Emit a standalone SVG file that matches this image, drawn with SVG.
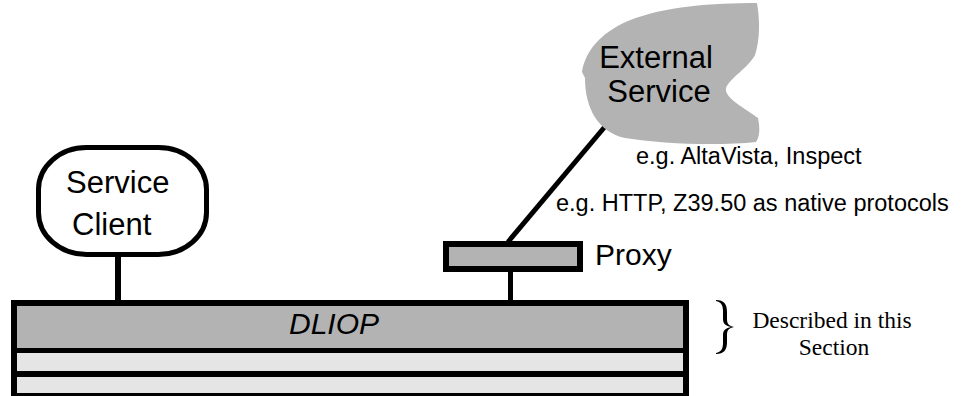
<svg xmlns="http://www.w3.org/2000/svg" width="969" height="396" viewBox="0 0 969 396">
<style>
.sans{font-family:"Liberation Sans",Arial,sans-serif;fill:#000}
.big{font-size:31px}
.lbl{font-size:23.5px}
.serif{font-family:"Liberation Serif","Times New Roman",serif;font-size:23.5px;fill:#000}
.conn{stroke:#000;fill:none}
</style>
<rect width="969" height="396" fill="#fff"/>
<g id="connectors">
<line class="conn" x1="118" y1="256" x2="118" y2="301" stroke-width="6"/>
<line class="conn" x1="510.5" y1="270" x2="510.5" y2="301" stroke-width="5"/>
<line class="conn" x1="508" y1="242" x2="608" y2="123" stroke-width="5"/>
</g>
<g id="external-service">
<path d="M585,78 L582,72 C585,52 600,33 628,21 C665,6 712,3 757,3 C760,20 760,40 755,55 C748,68 730,78 726,88 C724,98 745,108 758,118 C760,128 760,136 756,142 C720,146 660,144 625,138 C598,132 585,108 585,78 Z" fill="#b3b3b3"/>
<text class="sans big" x="656" y="68" text-anchor="middle">External</text>
<text class="sans big" x="659" y="102" text-anchor="middle">Service</text>
</g>
<g id="service-client">
<rect x="38.5" y="147.5" width="168" height="107" rx="48" ry="42" fill="#fff" stroke="#000" stroke-width="5"/>
<text class="sans big" x="66" y="193">Service</text>
<text class="sans big" x="72" y="235">Client</text>
</g>
<g id="proxy">
<rect x="446" y="244" width="134" height="25" fill="#b3b3b3" stroke="#000" stroke-width="6"/>
<text class="sans" x="595" y="265" font-size="30">Proxy</text>
</g>
<g id="labels">
<text class="sans lbl" x="636" y="164">e.g. AltaVista, Inspect</text>
<text class="sans lbl" x="556" y="211">e.g. HTTP, Z39.50 as native protocols</text>
</g>
<g id="dliop">
<rect x="11" y="300" width="678" height="96" fill="#000"/>
<rect x="17" y="306" width="666" height="42" fill="#b3b3b3"/>
<rect x="17" y="353" width="666" height="18" fill="#e5e5e5"/>
<rect x="17" y="377" width="666" height="16" fill="#e5e5e5"/>
<text class="sans" x="334" y="334" font-size="30" font-style="italic" text-anchor="middle">DLIOP</text>
</g>
<g id="section-note">
<path d="M716,300 C724,300 727,304 727,312 L727,319 C727,324 729,326 734,327 C729,328 727,330 727,335 L727,342 C727,350 724,354 716,354 L716,353 C721,352 723,349 723,343 L723,335 C723,330 726,328 731,327 C726,326 723,324 723,319 L723,311 C723,305 721,302 716,301 Z" fill="#000"/>
<text class="serif" x="832" y="328" text-anchor="middle">Described in this</text>
<text class="serif" x="834" y="355" text-anchor="middle">Section</text>
</g>
</svg>
